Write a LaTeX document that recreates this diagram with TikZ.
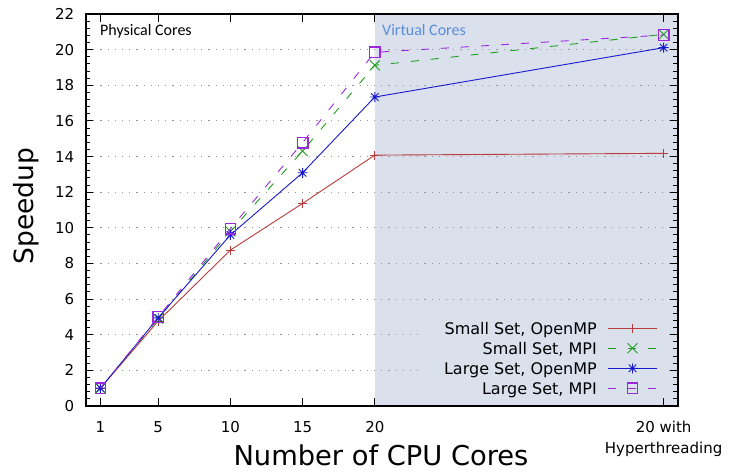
\documentclass[tikz,border=0pt]{standalone}
\usepackage{fontspec}
\setmainfont{DejaVu Sans}
\newfontfamily\calibri{Carlito}
\usepackage{tikz}
\usetikzlibrary{plotmarks}
\definecolor{smallomp}{RGB}{185,60,60}
\definecolor{smallmpi}{RGB}{30,160,30}
\definecolor{largeomp}{RGB}{25,25,205}
\definecolor{largempi}{RGB}{155,40,220}
\definecolor{virtshade}{RGB}{218,225,237}
\definecolor{virtblue}{RGB}{90,140,215}
\definecolor{gridgray}{RGB}{150,150,150}

% plus and cross on top of each other
\pgfdeclareplotmark{pluscross}{%
  \pgfpathmoveto{\pgfqpoint{-\pgfplotmarksize}{0pt}}%
  \pgfpathlineto{\pgfqpoint{\pgfplotmarksize}{0pt}}%
  \pgfpathmoveto{\pgfqpoint{0pt}{-\pgfplotmarksize}}%
  \pgfpathlineto{\pgfqpoint{0pt}{\pgfplotmarksize}}%
  \pgfpathmoveto{\pgfqpoint{-.75\pgfplotmarksize}{-.75\pgfplotmarksize}}%
  \pgfpathlineto{\pgfqpoint{.75\pgfplotmarksize}{.75\pgfplotmarksize}}%
  \pgfpathmoveto{\pgfqpoint{-.75\pgfplotmarksize}{.75\pgfplotmarksize}}%
  \pgfpathlineto{\pgfqpoint{.75\pgfplotmarksize}{-.75\pgfplotmarksize}}%
  \pgfusepathqstroke}

\begin{document}
\begin{tikzpicture}[x=1pt, y=1pt,
        frame/.style={draw=black, line width=1.4pt},
        tickmark/.style={black, line width=1pt},
        gridline/.style={gridgray, line width=1.1pt, dash pattern=on 1.1pt off 6.1pt},
        ticklabel/.style={font=\fontsize{15}{21}\selectfont, inner sep=0pt},
        keylabel/.style={font=\fontsize{16}{19}\selectfont, inner sep=0pt, anchor=base east},
        axislabel/.style={font=\fontsize{27.3}{32}\selectfont, inner sep=0pt, anchor=base},
        regionlabel/.style={font=\calibri\fontsize{16}{19}\selectfont, inner sep=0pt, anchor=base west},
        series/.style={line width=0.9pt},
        ompsmall/.style={series, smallomp, mark=+, mark size=4.5pt, mark options={solid, smallomp}},
        mpismall/.style={series, smallmpi, dash pattern=on 8pt off 12pt, mark=x, mark size=7pt, mark options={solid, smallmpi}},
        omplarge/.style={series, largeomp, mark=pluscross, mark size=5pt, mark options={solid, largeomp}},
        mpilarge/.style={series, largempi, dash pattern=on 8pt off 12pt},
        boxmark/.style={draw=largempi, solid, line width=1.3pt, minimum size=10.5pt, inner sep=0pt}
    ]
    \useasboundingbox (0,0) rectangle (729,472);

    \begin{scope}[shift={(86,66)}, x=14.44pt, y=17.818pt]
    % virtual cores region
    \fill[virtshade] (20,0) rectangle (41,22);
    % grid
    \foreach \v in {2,4,...,20}
        \draw[gridline] (0,\v) -- (41,\v);
    % ticks
    \foreach \v in {0,0.4,...,22} {
        \draw[tickmark] (0,\v) -- ++(4pt,0);
        \draw[tickmark] (41,\v) -- ++(-5pt,0);
    }
    \foreach \v in {0,2,...,22} {
        \draw[tickmark] (0,\v) -- ++(7pt,0);
        \draw[tickmark] (41,\v) -- ++(-8pt,0);
        \node[ticklabel, anchor=east] (ylab\v) at (-0.8,\v) {\v};
    }
    \foreach \v in {1,5,10,15,20,40} {
        \draw[tickmark] (\v,0) -- ++(0,8pt);
        \draw[tickmark] (\v,22) -- ++(0,-8pt);
    }
    \foreach \v in {1,5,10,15,20}
        \node[ticklabel, anchor=base] (xlab\v) at (\v,-1.5) {\v};
    \node[ticklabel, anchor=base, align=center] (xlabht) at (40,-2.64) {20 with\\Hyperthreading};
    \draw[frame] (0,0) rectangle (41,22);

    % measurements
    \draw[ompsmall] plot coordinates {(1,1) (5,4.77) (10,8.75) (15,11.37) (20,14.08) (40,14.18)};
    \draw[mpismall] plot coordinates {(1,1) (5,4.9) (10,9.8) (15,14.31) (20,19.12) (40,20.86)};
    \draw[omplarge] plot coordinates {(1,1) (5,4.95) (10,9.6) (15,13.09) (20,17.34) (40,20.11)};
    \draw[mpilarge] plot coordinates {(1,1) (5,5.0) (10,9.95) (15,14.78) (20,19.85) (40,20.82)};
    \foreach \px/\py [count=\i] in {1/1, 5/5.0, 10/9.95, 15/14.78, 20/19.85, 40/20.82}
        \node[boxmark] (sq\i) at (\px,\py) {};
    \end{scope}

    % key
    \fill[virtshade] (424,74) rectangle (665,154);
    \node[keylabel] (keyA) at (597,137.9) {Small Set, OpenMP};
    \node[keylabel] (keyB) at (597,117.9) {Small Set, MPI};
    \node[keylabel] (keyC) at (597,97.9) {Large Set, OpenMP};
    \node[keylabel] (keyD) at (597,77.9) {Large Set, MPI};
    \draw[ompsmall, mark indices={2}] plot coordinates {(608,143.7) (632.5,143.7) (657,143.7)};
    \draw[mpismall, mark indices={2}] plot coordinates {(608,123.7) (632.5,123.7) (657,123.7)};
    \draw[omplarge, mark indices={2}] plot coordinates {(608,103.7) (632.5,103.7) (657,103.7)};
    \draw[mpilarge] (608,83.7) -- (657,83.7);
    \node[boxmark] (sqkey) at (632.5,83.7) {};

    % labels
    \node[regionlabel] (physical) at (100,436) {Physical Cores};
    \node[regionlabel, virtblue] (virtual) at (382,436) {Virtual Cores};
    \node[axislabel] (xtitle) at (381,7) {Number of CPU Cores};
    \node[axislabel, font=\fontsize{26.5}{32}\selectfont, rotate=90] (ytitle) at (33.3,266) {Speedup};
\end{tikzpicture}
\end{document}
